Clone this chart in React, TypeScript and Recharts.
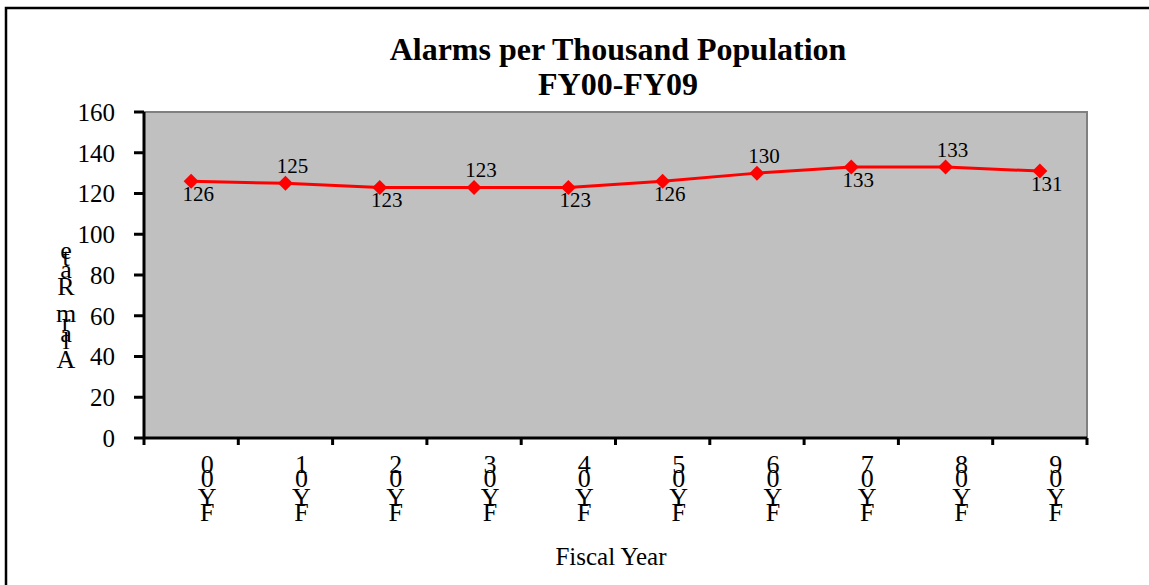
import { LineChart, Line, XAxis, YAxis, ReferenceArea, LabelList } from "recharts";

const years = ["FY00", "FY01", "FY02", "FY03", "FY04", "FY05", "FY06", "FY07", "FY08", "FY09"];
const alarmRate = [126, 125, 123, 123, 123, 126, 130, 133, 133, 131];
const labelSide = ["below", "above", "below", "above", "below", "below", "above", "below", "above", "below"];
const yTicks = [0, 20, 40, 60, 80, 100, 120, 140, 160];

const data = years.map((year, i) => ({ year, rate: alarmRate[i] }));

const FONT = '"Liberation Serif", "Times New Roman", serif';

// rough Times advance widths, used to stack rotated text the way the original export does
const ADV: Record<string, number> = {
  F: 0.556, Y: 0.722, A: 0.722, R: 0.667, e: 0.444, t: 0.278, a: 0.444,
  m: 0.778, r: 0.333, l: 0.278, " ": 0.25, "-": 0.333,
};
const adv = (ch: string) => ADV[ch] ?? 0.5;

function StackedText({ text, x, y, size, gap = 0 }: { text: string; x: number; y: number; size: number; gap?: number }) {
  const chars = text.split("").reverse();
  return (
    <text x={x} y={y} textAnchor="middle" fontFamily={FONT} fontSize={size} fill="#000">
      {chars.map((ch, i) => (
        <tspan key={i} x={x} dy={i === 0 ? 0 : adv(ch) * size + gap}>
          {ch === " " ? "\u00a0" : ch}
        </tspan>
      ))}
    </text>
  );
}

function YearTick(props: any) {
  const { x, y, payload, index, width, visibleTicksCount } = props;
  const bw = width / visibleTicksCount;
  const last = index === visibleTicksCount - 1;
  return (
    <g>
      <line x1={x - bw / 2} y1={y} x2={x - bw / 2} y2={y + 7} stroke="#000" strokeWidth={3} />
      {last && <line x1={x + bw / 2} y1={y} x2={x + bw / 2} y2={y + 7} stroke="#000" strokeWidth={3} />}
      <StackedText text={payload.value} x={x + 16} y={y + 35} size={26} gap={0.7} />
    </g>
  );
}

function Diamond(props: any) {
  const { cx, cy } = props;
  if (cx == null || cy == null) return null;
  const r = 7.5;
  return <polygon points={`${cx},${cy - r} ${cx + r},${cy} ${cx},${cy + r} ${cx - r},${cy}`} fill="#ff0000" />;
}

function RateLabel(props: any) {
  const { x, y, value, index } = props;
  const above = labelSide[index] === "above";
  return (
    <text x={x + 7} y={above ? y - 10 : y + 20} textAnchor="middle" fontFamily={FONT} fontSize={21} fill="#000">
      {value}
    </text>
  );
}

export default function App() {
  return (
    <div style={{ position: "absolute", left: 0, top: 0, width: 1149, height: 585, background: "#fff", overflow: "hidden" }}>
      <LineChart width={1149} height={585} data={data} margin={{ top: 112, right: 62, bottom: 47, left: 84 }}>
        <ReferenceArea y1={0} y2={160} fill="#c0c0c0" fillOpacity={1} stroke="#808080" strokeWidth={2} ifOverflow="visible" />
        <XAxis
          dataKey="year"
          scale="band"
          height={100}
          tickLine={false}
          tickSize={0}
          tickMargin={0}
          interval={0}
          axisLine={{ stroke: "#000", strokeWidth: 3 }}
          tick={<YearTick />}
        />
        <YAxis
          width={60}
          domain={[0, 160]}
          ticks={yTicks}
          interval={0}
          tickSize={10}
          tickMargin={19}
          axisLine={{ stroke: "#000", strokeWidth: 3 }}
          tickLine={{ stroke: "#000", strokeWidth: 3 }}
          tick={{ fill: "#000", fontFamily: FONT, fontSize: 25 }}
        />
        <Line
          dataKey="rate"
          stroke="#ff0000"
          strokeWidth={3}
          dot={<Diamond />}
          activeDot={false}
          isAnimationActive={false}
        >
          <LabelList dataKey="rate" content={<RateLabel />} />
        </Line>
      </LineChart>
      <svg width={1149} height={585} style={{ position: "absolute", left: 0, top: 0, pointerEvents: "none" }}>
        <rect x={6} y={8} width={1200} height={600} fill="none" stroke="#000" strokeWidth={2.5} />
        <text x={618} y={60} textAnchor="middle" fontFamily={FONT} fontWeight="bold" fontSize={32} fill="#000">
          Alarms per Thousand Population
        </text>
        <text x={618} y={95} textAnchor="middle" fontFamily={FONT} fontWeight="bold" fontSize={32} fill="#000">
          FY00-FY09
        </text>
        <StackedText text="Alarm Rate" x={66} y={259} size={26} />
        <text x={611} y={565} textAnchor="middle" fontFamily={FONT} fontSize={25} fill="#000">
          Fiscal Year
        </text>
      </svg>
    </div>
  );
}
